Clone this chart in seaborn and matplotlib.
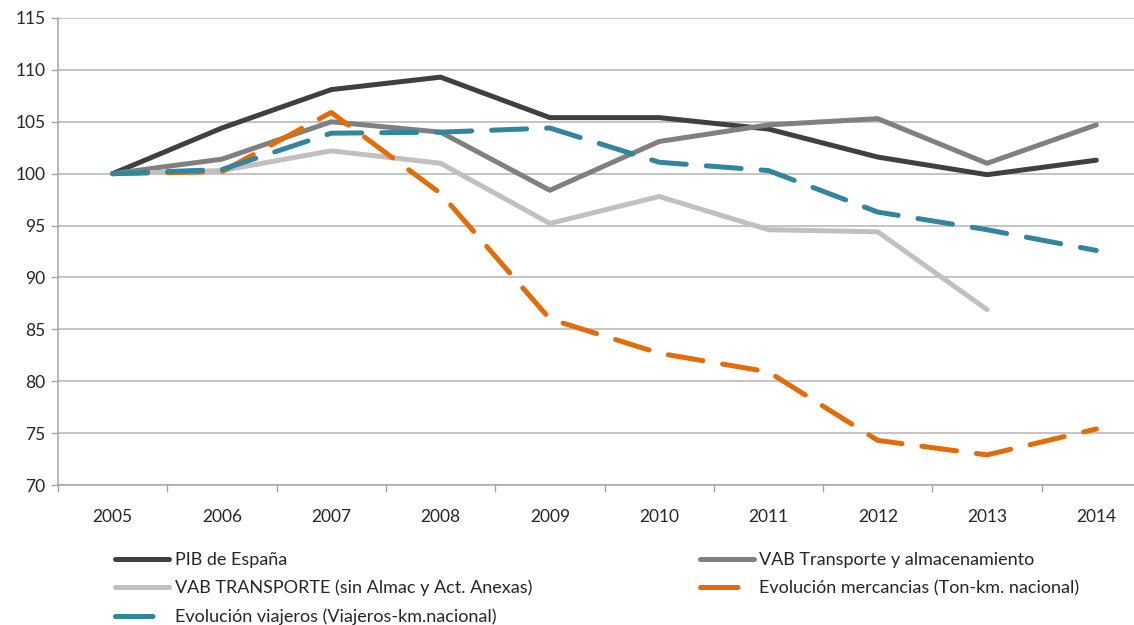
import numpy as np
import pandas as pd
import matplotlib
matplotlib.use("Agg")
import matplotlib.pyplot as plt
from matplotlib.lines import Line2D
import seaborn as sns

# Data (index 2005 = 100)
years = [2005, 2006, 2007, 2008, 2009, 2010, 2011, 2012, 2013, 2014]
pib = [100, 104.4, 108.1, 109.3, 105.4, 105.4, 104.3, 101.6, 99.9, 101.3]
vab_ta = [100, 101.4, 105.0, 104.0, 98.4, 103.1, 104.7, 105.3, 101.0, 104.7]
vab_trans = [100, 100.3, 102.2, 101.0, 95.2, 97.8, 94.6, 94.4, 86.9, np.nan]
mercancias = [100, 100.2, 105.9, 98.1, 86.0, 82.7, 80.9, 74.3, 72.9, 75.4]
viajeros = [100, 100.4, 103.9, 104.0, 104.4, 101.1, 100.3, 96.3, 94.6, 92.6]

labels = ["PIB de España",
          "VAB Transporte y almacenamiento",
          "VAB TRANSPORTE (sin Almac y Act. Anexas)",
          "Evolución mercancias (Ton-km. nacional)",
          "Evolución viajeros (Viajeros-km.nacional)"]
colors = ["#404040", "#808080", "#c0c0c0", "#e36c09", "#31859c"]
dashed = [False, False, False, True, True]
series = [pib, vab_ta, vab_trans, mercancias, viajeros]

sns.set_style("white")
plt.rcParams['font.family'] = ['Lato', 'DejaVu Sans']

fig = plt.figure(figsize=(11.34, 6.25), dpi=100)
ax = fig.add_axes([58 / 1134, 140 / 625, 1093 / 1134, 467 / 625])

handles = {}
for lab, vals, col, dsh in zip(labels, series, colors, dashed):
    df = pd.DataFrame({"year": years, "value": vals}).dropna()
    sns.lineplot(data=df, x="year", y="value", ax=ax, color=col, linewidth=3.6,
                 legend=False)
    ln = ax.lines[-1]
    ln.set_solid_capstyle("round")
    ln.set_solid_joinstyle("round")
    if dsh:
        ln.set_dashes([7, 4])
        ln.set_dash_capstyle("round")
    # legend proxy: dashed series show one shorter dash
    proxy = Line2D([], [], color=col, linewidth=3.6, solid_capstyle="round",
                   dash_capstyle="round")
    if dsh:
        proxy.set_dashes([7.5, 10])
    handles[lab] = proxy

ax.set_xlim(2004.5, 2014.5)
ax.set_ylim(70, 115)
ax.set_yticks(range(70, 116, 5))
ax.set_xticks(years)
ax.set_xticks(np.arange(2004.5, 2015, 1), minor=True)
ax.set_xlabel("")
ax.set_ylabel("")
ax.grid(axis="y", color="#b4b4b4", linewidth=1.1)
ax.grid(axis="x", visible=False)
ax.set_axisbelow(True)

for s in ["top", "right"]:
    ax.spines[s].set_visible(False)
for s in ["left", "bottom"]:
    ax.spines[s].set_color("#a6a6a6")
    ax.spines[s].set_linewidth(1.1)

ax.tick_params(axis="y", which="major", left=True, length=5, width=1,
               color="#a6a6a6", labelsize=12.5, labelcolor="#262626", pad=4)
ax.tick_params(axis="x", which="major", bottom=False, labelsize=12.5,
               labelcolor="#262626", pad=14)
ax.tick_params(axis="x", which="minor", bottom=True, length=5, width=1,
               color="#a6a6a6")

order = [labels[0], labels[2], labels[4], labels[1], labels[3]]
fig.legend([handles[l] for l in order], order, ncol=2, frameon=False,
           loc="upper left", bbox_to_anchor=(115 / 1134, 1 - 552 / 625),
           fontsize=13, handlelength=3.0, handletextpad=0.3,
           columnspacing=9.3, labelspacing=0.66, borderpad=0, borderaxespad=0,
           labelcolor="#262626")

fig.savefig("out.png", dpi=100)
